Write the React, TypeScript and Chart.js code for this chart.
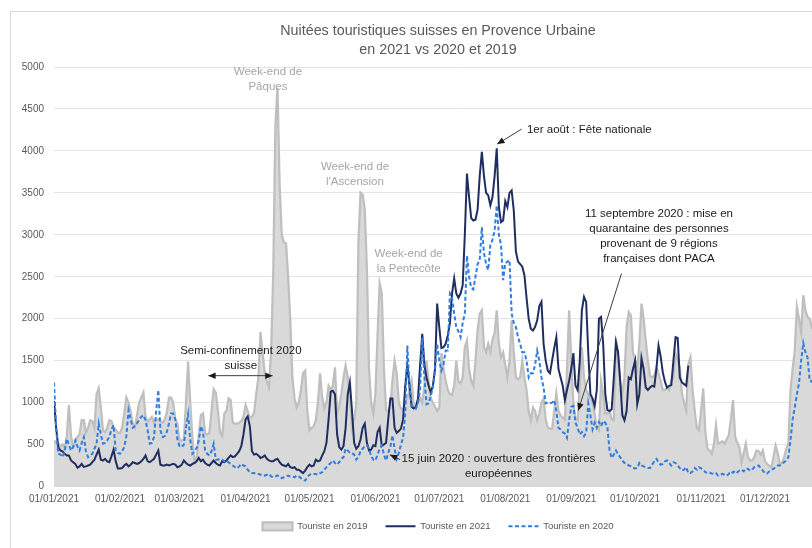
import React, { useEffect, useRef } from 'react';
import { Chart, registerables } from 'chart.js';

Chart.register(...registerables);

const FONT = '"Liberation Sans", Arial, sans-serif';

const TITLE_LINES = ['Nuitées touristiques suisses en Provence Urbaine', 'en 2021 vs 2020 et 2019'];
const SERIES_NAMES = ['Touriste en 2019', 'Touriste en 2021', 'Touriste en 2020'];

// x axis: day of year 2021 (0 = 01/01/2021); ticks at month starts
const MONTH_START_DAYS = [0, 31, 59, 90, 120, 151, 181, 212, 243, 273, 304, 334];
const MONTH_LABELS = [
  '01/01/2021', '01/02/2021', '01/03/2021', '01/04/2021', '01/05/2021', '01/06/2021',
  '01/07/2021', '01/08/2021', '01/09/2021', '01/10/2021', '01/11/2021', '01/12/2021',
];
const Y_MAX = 5000;
const Y_STEP = 500;

// daily values, one row per month
const TOURISTE_2019 = [
  550, 520, 520, 480, 500, 450, 600, 970, 600, 470, 520, 590, 620, 790, 790, 640, 700, 790, 780, 700, 1100, 1170, 950, 670, 650, 700, 790, 780, 700, 680, 640,
  640, 700, 870, 1060, 1000, 900, 750, 700, 850, 1000, 1060, 1120, 830, 780, 800, 830, 760, 790, 800, 780, 760, 800, 880, 1060, 1060, 1000, 800, 750,
  550, 550, 560, 1000, 1490, 1000, 590, 300, 350, 600, 850, 870, 640, 620, 640, 900, 1160, 1120, 900, 650, 600, 870, 900, 1050, 1030, 760, 750, 750, 760, 780, 830,
  970, 900, 820, 830, 880, 1100, 1300, 1840, 1600, 1350, 1250, 1180, 1620, 2540, 4300, 4750, 3600, 3000, 2910, 2900, 2500, 1980, 1300, 1050, 940, 1000, 1150, 1350, 1380, 900,
  670, 700, 720, 790, 1000, 1350, 1060, 930, 1000, 1200, 1150, 1200, 1420, 870, 950, 1110, 1300, 1440, 1300, 1100, 700, 800, 1000, 2900, 3500, 3480, 3300, 2600, 1400, 1000, 870,
  1110, 1800, 2420, 2300, 1400, 910, 900, 950, 1260, 1500, 1350, 1000, 930, 910, 1000, 1050, 1150, 1260, 960, 930, 1000, 1060, 1000, 1200, 1500, 1260, 1050, 1000, 950, 900,
  940, 1590, 1400, 1260, 1150, 1100, 1090, 1200, 1500, 1250, 1230, 1300, 1660, 1740, 1400, 1260, 1200, 1500, 1860, 2060, 2100, 1660, 1600, 1700, 1600, 1750, 1830, 2100, 1700, 1540, 1600,
  1450, 1300, 1500, 1980, 1600, 1300, 1280, 1300, 1500, 1300, 1150, 900, 790, 940, 900, 790, 870, 1000, 1050, 800, 700, 690, 690, 900, 1110, 900, 850, 820, 800, 1400, 2100,
  1500, 1000, 800, 790, 1200, 1660, 1300, 1150, 1100, 1050, 1000, 870, 700, 670, 1260, 1110, 870, 870, 900, 800, 790, 1770, 1500, 1230, 1110, 1300, 1900, 2080, 2040, 1600,
  1500, 1400, 1700, 2180, 2000, 1740, 1500, 1320, 1300, 1320, 1420, 1350, 1260, 1150, 1150, 1180, 1150, 1260, 1300, 1590, 1500, 1420, 1110, 1000, 910, 1460, 1540, 1150, 900, 700, 670,
  900, 1170, 650, 450, 430, 390, 500, 730, 510, 520, 540, 510, 560, 610, 800, 1030, 590, 520, 470, 290, 400, 510, 350, 310, 310, 350, 430, 420, 380, 430,
  300, 270, 250, 230, 350, 490, 400, 270, 280, 350, 450, 510, 1150, 1400, 1620, 2140, 2000, 1840, 2280, 2100, 2020, 2000, 1900, 1850,
];

const TOURISTE_2021 = [
  1020, 700, 470, 430, 420, 390, 370, 370, 310, 290, 270, 225, 240, 270, 235, 240, 250, 260, 290, 320, 380, 440, 320, 310, 330, 300, 290, 360, 440, 300, 215,
  215, 220, 250, 270, 240, 260, 290, 280, 270, 280, 300, 330, 370, 300, 290, 310, 330, 380, 430, 260, 250, 250, 260, 250, 260, 270, 260, 230,
  240, 260, 310, 280, 260, 250, 270, 280, 300, 340, 300, 320, 280, 260, 250, 280, 310, 280, 260, 250, 300, 290, 310, 340, 370, 350, 360, 390, 420, 480, 620,
  800, 835, 720, 420, 380, 390, 370, 340, 350, 370, 330, 310, 300, 300, 320, 330, 290, 260, 250, 240, 270, 230, 220, 230, 200, 200, 180, 160, 190, 230,
  260, 240, 250, 320, 300, 310, 370, 420, 520, 800, 1130, 1140, 1100, 620, 470, 440, 480, 700, 1100, 1240, 900, 520, 450, 480, 560, 700, 750, 520, 430, 440, 490,
  480, 650, 700, 480, 500, 520, 800, 1050, 1050, 700, 640, 660, 690, 800, 1200, 1450, 1200, 950, 930, 950, 1050, 1450, 1820, 1450, 1300, 1200, 1120, 1200, 1400, 2180,
  1900, 1650, 1660, 1700, 1800, 1950, 2300, 2480, 2300, 2250, 2300, 2400, 3000, 3730, 3450, 3200, 3170, 3180, 3300, 3700, 3990, 3700, 3500, 3470, 3350, 3450, 3700, 4030, 3330, 3150, 3170,
  3400, 3330, 3500, 3530, 3290, 2800, 2680, 2650, 2620, 2520, 2250, 2000, 1880, 1860, 1900, 1980, 2150, 2200, 1700, 1500, 1380, 1350, 1500, 1650, 1780, 1400, 1300, 1200, 1030, 1150, 1260,
  1400, 1590, 1200, 1150, 1500, 2100, 2260, 2200, 1590, 1100, 1050, 960, 1150, 2000, 2020, 1700, 1100, 910, 900, 920, 1300, 1720, 1600, 1260, 850, 790, 900, 1300, 1280, 1400,
  1500, 980, 1100, 1530, 1400, 1180, 1150, 1180, 1200, 1190, 1400, 1680, 1550, 1360, 1250, 1180, 1200, 1210, 1500, 1780, 1770, 1300, 1240, 1220, 1200, 1440,
];

const TOURISTE_2020 = [
  1240, 700, 390, 380, 350, 420, 570, 500, 430, 470, 550, 480, 430, 520, 590, 420, 350, 370, 390, 450, 510, 750, 620, 510, 520, 550, 590, 680, 730, 420, 400,
  390, 420, 470, 600, 910, 800, 700, 720, 750, 800, 830, 850, 790, 670, 510, 520, 590, 900, 1150, 670, 590, 600, 650, 750, 870, 870, 800, 560,
  480, 470, 500, 700, 860, 560, 390, 420, 460, 550, 720, 650, 430, 390, 370, 420, 510, 320, 320, 330, 320, 300, 310, 290, 270, 250, 230, 215, 240, 270, 250,
  240, 200, 170, 160, 160, 150, 150, 140, 140, 130, 140, 150, 120, 110, 120, 130, 125, 100, 110, 120, 130, 120, 120, 110, 130, 120, 100, 80, 70, 110,
  140, 150, 150, 150, 140, 160, 170, 200, 230, 260, 280, 310, 280, 260, 290, 330, 350, 450, 430, 400, 400, 380, 320, 350, 420, 450, 480, 490, 450, 360, 320,
  310, 380, 450, 490, 380, 310, 400, 470, 610, 450, 330, 400, 500, 580, 870, 1680, 1200, 970, 940, 930, 1000, 1150, 1770, 1300, 980, 990, 1080, 1180, 1400, 1700,
  1500, 1380, 1450, 1620, 1620, 2300, 2250, 2060, 1900, 1850, 1780, 1950, 2060, 2750, 2500, 2370, 2350, 2500, 2650, 2700, 3090, 2780, 2650, 2580, 2880, 2940, 3050, 3350, 3000, 2880, 2460,
  2660, 2680, 2700, 2060, 1950, 1900, 1780, 1700, 1600, 1600, 1500, 1300, 1350, 1350, 1450, 1620, 1500, 1300, 1180, 990, 1000, 990, 1000, 1030, 900, 700, 680, 650, 630, 580, 790,
  950, 960, 760, 700, 620, 650, 600, 640, 990, 850, 680, 760, 700, 770, 720, 780, 760, 700, 430, 340, 380, 430, 380, 350, 310, 280, 270, 250, 240, 220,
  215, 220, 280, 250, 240, 230, 220, 220, 260, 300, 330, 290, 260, 270, 300, 310, 280, 250, 290, 280, 250, 220, 190, 200, 230, 160, 160, 180, 220, 200, 230,
  215, 200, 170, 160, 165, 155, 150, 160, 130, 140, 150, 140, 130, 150, 180, 165, 190, 170, 190, 200, 180, 215, 210, 190, 200, 230, 240, 250, 220, 190,
  160, 155, 180, 200, 210, 230, 250, 250, 270, 290, 310, 350, 550, 800, 940, 1100, 1230, 1500, 1710, 1600, 1540, 1260, 1250, 1300,
];

// text notes, anchored in data coordinates (day, value per line)
const NOTES = [
  { day: 100.5, values: [4940, 4761], lines: ['Week-end de', 'Pâques'], color: '#A6A6A6', align: 'center' },
  { day: 141.4, values: [3810, 3631], lines: ['Week-end de', "l'Ascension"], color: '#A6A6A6', align: 'center' },
  { day: 166.6, values: [2777, 2598], lines: ['Week-end de', 'la Pentecôte'], color: '#A6A6A6', align: 'center' },
  { day: 222.2, values: [4256], lines: ['1er août : Fête nationale'], color: '#1A1A1A', align: 'left' },
  {
    day: 284.2, values: [3246, 3075, 2896, 2709],
    lines: ['11 septembre 2020 : mise en', 'quarantaine des personnes', 'provenant de 9 régions', 'françaises dont PACA'],
    color: '#1A1A1A', align: 'center',
  },
  { day: 87.8, values: [1623, 1444], lines: ['Semi-confinement 2020', 'suisse'], color: '#1A1A1A', align: 'center' },
  { day: 208.8, values: [330, 152], lines: ['15 juin 2020 : ouverture des frontières', 'européennes'], color: '#1A1A1A', align: 'center' },
];

const ARROWS = [
  { from: [219.7, 4260], to: [208.2, 4081], both: false },
  { from: [266.6, 2538], to: [246.3, 907], both: false },
  { from: [72.5, 1321], to: [102.7, 1321], both: true },
  { from: [162.5, 322], to: [157.8, 378], both: false },
];

function arrowHead(ctx: any, x1: number, y1: number, x2: number, y2: number) {
  const ang = Math.atan2(y2 - y1, x2 - x1);
  const size = 8;
  ctx.beginPath();
  ctx.moveTo(x2, y2);
  ctx.lineTo(x2 - size * Math.cos(ang - 0.42), y2 - size * Math.sin(ang - 0.42));
  ctx.lineTo(x2 - size * Math.cos(ang + 0.42), y2 - size * Math.sin(ang + 0.42));
  ctx.closePath();
  ctx.fill();
}

const notesPlugin = {
  id: 'notes',
  afterLayout(chart: any) {
    // let the x tick labels render fully below the (compact) axis box
    const xs = chart.scales.x;
    xs.bottom = xs.top + 24;
  },
  afterDraw(chart: any) {
    const { ctx } = chart;
    const xs = chart.scales.x;
    const ys = chart.scales.y;
    const px = (d: number) => xs.getPixelForValue(d);
    const py = (v: number) => ys.getPixelForValue(v);
    ctx.save();
    ctx.font = `11.5px ${FONT}`;
    ctx.textBaseline = 'middle';
    for (const n of NOTES) {
      ctx.fillStyle = n.color;
      ctx.textAlign = n.align;
      n.lines.forEach((line, i) => ctx.fillText(line, px(n.day), py(n.values[i])));
    }
    ctx.strokeStyle = '#404040';
    ctx.fillStyle = '#1A1A1A';
    ctx.lineWidth = 1;
    for (const a of ARROWS) {
      const x1 = px(a.from[0]);
      const y1 = py(a.from[1]);
      const x2 = px(a.to[0]);
      const y2 = py(a.to[1]);
      ctx.beginPath();
      ctx.moveTo(x1, y1);
      ctx.lineTo(x2, y2);
      ctx.stroke();
      arrowHead(ctx, x1, y1, x2, y2);
      if (a.both) arrowHead(ctx, x2, y2, x1, y1);
    }
    ctx.restore();
  },
};

export default function App() {
  const canvasRef = useRef<HTMLCanvasElement | null>(null);

  useEffect(() => {
    if (!canvasRef.current) return;
    const maxLen = Math.max(TOURISTE_2019.length, TOURISTE_2020.length, TOURISTE_2021.length);
    const days = Array.from({ length: maxLen }, (_, i) => i);

    const chart = new Chart(canvasRef.current, {
      type: 'line',
      data: {
        labels: days,
        datasets: [
          {
            label: SERIES_NAMES[0],
            data: TOURISTE_2019,
            borderColor: '#BFBFBF',
            backgroundColor: '#D9D9D9',
            borderWidth: 2.25,
            fill: 'origin',
            pointRadius: 0,
            pointStyle: 'rect',
            tension: 0,
            order: 3,
          },
          {
            label: SERIES_NAMES[1],
            data: TOURISTE_2021,
            borderColor: '#1F2E5E',
            backgroundColor: '#1F2E5E',
            borderWidth: 2,
            fill: false,
            pointRadius: 0,
            pointStyle: 'line',
            tension: 0,
            order: 2,
          },
          {
            label: SERIES_NAMES[2],
            data: TOURISTE_2020,
            borderColor: '#2F7DE1',
            backgroundColor: '#2F7DE1',
            borderWidth: 2,
            borderDash: [4, 2.5],
            fill: false,
            pointRadius: 0,
            pointStyle: 'line',
            tension: 0,
            order: 1,
          },
        ],
      },
      options: {
        animation: false,
        responsive: false,
        events: [],
        layout: { padding: { left: 0, right: 0, top: 0, bottom: 5 } },
        scales: {
          x: {
            type: 'linear',
            min: 0,
            max: 381,
            afterBuildTicks: (s: any) => {
              s.ticks = MONTH_START_DAYS.map((v) => ({ value: v }));
            },
            afterFit: (s: any) => {
              s.height = 17;
            },
            ticks: {
              autoSkip: false,
              maxRotation: 0,
              padding: 7,
              color: '#595959',
              font: { family: FONT, size: 10 },
              callback: (_v: any, i: number) => MONTH_LABELS[i],
            },
            grid: { display: false, drawTicks: false },
            border: { display: true, color: '#D9D9D9', width: 1 },
          },
          y: {
            min: 0,
            max: Y_MAX,
            afterFit: (s: any) => {
              s.width = 43;
            },
            ticks: {
              stepSize: Y_STEP,
              padding: 10,
              color: '#595959',
              font: { family: FONT, size: 10 },
              callback: (v: any) => String(v),
            },
            grid: { color: '#E3E3E3', drawTicks: false },
            border: { display: false },
          },
        },
        plugins: {
          tooltip: { enabled: false },
          title: {
            display: true,
            text: TITLE_LINES,
            color: '#595959',
            font: { family: FONT, size: 14.3, weight: 'normal', lineHeight: 19 / 14.3 },
            padding: { top: 9.5, bottom: 7.5 },
          },
          legend: {
            position: 'bottom',
            labels: {
              usePointStyle: true,
              pointStyleWidth: 30,
              boxHeight: 8,
              padding: 18,
              color: '#595959',
              font: { family: FONT, size: 9.5 },
              generateLabels: (c: any) => {
                const items = (Chart as any).defaults.plugins.legend.labels.generateLabels(c);
                return items
                  .map((it: any) => {
                    const ds = c.data.datasets[it.datasetIndex];
                    return {
                      ...it,
                      lineWidth: ds.borderWidth,
                      lineDash: ds.borderDash || [],
                      strokeStyle: ds.borderColor,
                      fillStyle: ds.backgroundColor,
                      pointStyle: ds.pointStyle,
                    };
                  })
                  .sort((a: any, b: any) => a.datasetIndex - b.datasetIndex);
              },
            },
          },
        },
      },
      plugins: [notesPlugin],
    } as any);

    return () => chart.destroy();
  }, []);

  return (
    <div style={{ position: 'fixed', left: 0, top: 0, width: 812, height: 548, overflow: 'hidden', background: '#fff' }}>
      <div
        style={{
          position: 'absolute', left: 10, top: 11, width: 900, height: 600,
          border: '1px solid #D9D9D9', boxSizing: 'border-box',
        }}
      />
      <canvas ref={canvasRef} width={854} height={534} style={{ position: 'absolute', left: 11, top: 12 }} />
    </div>
  );
}
